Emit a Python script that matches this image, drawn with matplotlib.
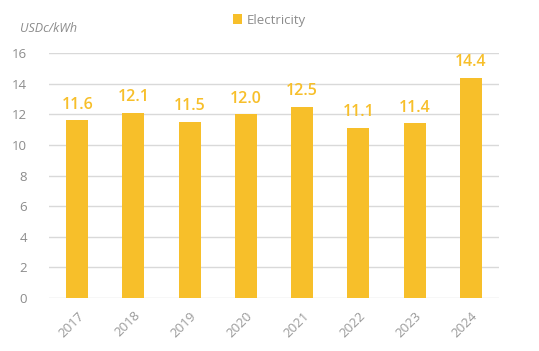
import matplotlib
matplotlib.use("Agg")
import matplotlib.pyplot as plt
import numpy as np

years = ["2017", "2018", "2019", "2020", "2021", "2022", "2023", "2024"]
electricity = [11.6, 12.1, 11.5, 12.0, 12.5, 11.1, 11.4, 14.4]
yticks = [0, 2, 4, 6, 8, 10, 12, 14, 16]

bar_color = "#F7BF2A"
grey = "#8c8c8c"

plt.rcParams['font.family'] = ['Open Sans', 'DejaVu Sans']

fig = plt.figure(figsize=(5.39, 3.51), dpi=100)
ax = fig.add_axes([0.091, 0.151, 0.835, 0.698])

x = np.arange(len(years))
bars = ax.bar(x, electricity, width=0.39, color=bar_color, label="Electricity", zorder=3)

for xi, v in zip(x, electricity):
    ax.text(xi, v + 0.5, f"{v:.1f}", ha="center", va="bottom", color=bar_color,
            fontsize=11.5, fontweight="semibold")

ax.set_xlim(-0.5, len(years) - 0.5)
ax.set_ylim(0, 16)
ax.set_yticks(yticks)
ax.set_xticks(x)
ax.set_xticklabels(years, rotation=45, ha="right", rotation_mode="anchor")
ax.tick_params(axis="both", length=0, colors=grey, labelsize=9.5)
ax.tick_params(axis="x", pad=8, colors="#999999")
ax.tick_params(axis="y", pad=16)
ax.grid(axis="y", color="#d9d9d9", linewidth=1, zorder=0)
for s in ax.spines.values():
    s.set_visible(False)

fig.text(0.037, 0.92, "USDc/kWh", style="italic", color=grey, fontsize=9, va="center")

leg = fig.legend(handles=[bars], labels=["Electricity"], loc="center", bbox_to_anchor=(0.5, 0.943),
                 frameon=False, fontsize=9.5, handlelength=0.7, handleheight=0.7, handletextpad=0.4)
for t in leg.get_texts():
    t.set_color(grey)

fig.savefig("out.png", dpi=100)
